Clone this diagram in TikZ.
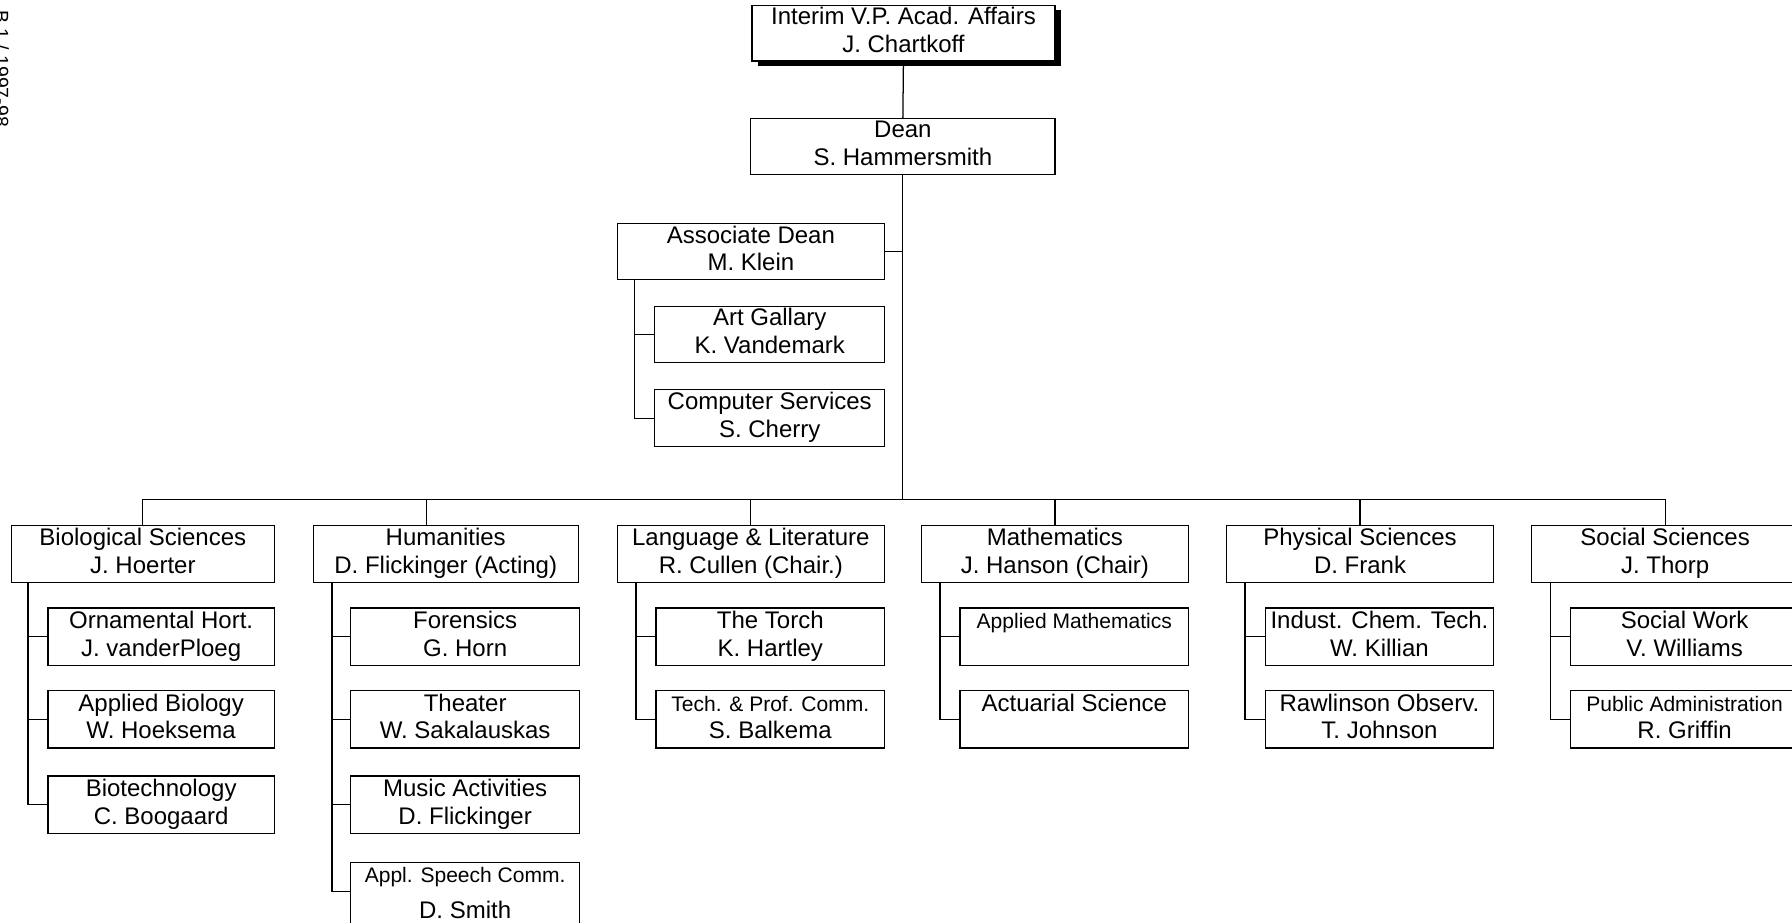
\documentclass[tikz,border=0pt]{standalone}
\usepackage{fontspec}
\setmainfont{Liberation Sans}
\usetikzlibrary{calc,shadows}
\newcommand{\tl}[2]{\begin{tabular}{@{}c@{}}#1\\#2\end{tabular}}
\newcommand{\smallfnt}{\fontsize{9.2}{12.2}\selectfont}
\begin{document}
\begin{tikzpicture}[x=0.5pt,y=-0.5pt,
  orgbox/.style={draw=black, line width=0.55pt, fill=white, inner sep=0pt, font=\fontsize{10.5}{12.2}\selectfont},
  dept/.style={orgbox, minimum width=117pt, minimum height=25pt},
  sub/.style={orgbox, minimum width=100pt, minimum height=25pt},
  link/.style={draw=black, line width=0.55pt}]
\useasboundingbox (0,0) rectangle (1568,807);
\clip (0,0) rectangle (1568,807);

% stamp at left edge
\node[rotate=-90, font=\fontsize{8.5}{10}\selectfont] (stamp) at (1.5,60) {B.1 / 1997-98};

% top levels
\node[orgbox, minimum width=132.5pt, minimum height=24pt,
      drop shadow={shadow xshift=2.5pt, shadow yshift=-2pt, fill=black, opacity=1}]
      (vp) at (790.5,29) {\tl{Interim V.P. Acad. Affairs}{J. Chartkoff}};
\node[orgbox, minimum width=133pt, minimum height=24pt] (dean) at (790,128) {\tl{Dean}{S. Hammersmith}};
\node[orgbox, minimum width=117pt, minimum height=23pt] (assoc) at (657,220) {\tl{Associate Dean}{M. Klein}};
\node[sub, minimum width=100.5pt, minimum height=24.5pt] (art) at (673.5,292.5) {\tl{Art Gallary}{K. Vandemark}};
\node[sub, minimum width=100.5pt] (comp) at (673.5,366) {\tl{Computer Services}{S. Cherry}};

% departments
\node[dept, minimum width=115pt] (bio) at (125,485) {\tl{Biological Sciences}{J. Hoerter}};
\node[dept, minimum width=116pt] (hum) at (390,485) {\tl{Humanities}{D. Flickinger (Acting)}};
\node[dept] (lang) at (657,485) {\tl{Language \& Literature}{R. Cullen (Chair.)}};
\node[dept] (math) at (923,485) {\tl{Mathematics}{J. Hanson (Chair)}};
\node[dept] (phys) at (1190,485) {\tl{Physical Sciences}{D. Frank}};
\node[dept] (soc) at (1457,485) {\tl{Social Sciences}{J. Thorp}};

% children
\node[sub, minimum width=99pt] (bio1) at (141,557) {\tl{Ornamental Hort.}{J. vanderPloeg}};
\node[sub, minimum width=99pt] (bio2) at (141,629.5) {\tl{Applied Biology}{W. Hoeksema}};
\node[sub, minimum width=99pt] (bio3) at (141,704) {\tl{Biotechnology}{C. Boogaard}};

\node[sub] (hum1) at (407,557) {\tl{Forensics}{G. Horn}};
\node[sub] (hum2) at (407,629.5) {\tl{Theater}{W. Sakalauskas}};
\node[sub] (hum3) at (407,704) {\tl{Music Activities}{D. Flickinger}};
\node[sub, minimum height=28pt] (hum4) at (407,783) {\tl{\smallfnt Appl. Speech Comm.}{\rule{0pt}{12pt}D. Smith}};

\node[sub] (lang1) at (674,557) {\tl{The Torch}{K. Hartley}};
\node[sub] (lang2) at (674,629.5) {\tl{\smallfnt Tech. \& Prof. Comm.}{S. Balkema}};

\node[sub] (math1) at (940,557) {\tl{\smallfnt Applied Mathematics}{\mbox{}}};
\node[sub] (math2) at (940,629.5) {\tl{Actuarial Science}{\mbox{}}};

\node[sub] (phys1) at (1207,557) {\tl{Indust. Chem. Tech.}{W. Killian}};
\node[sub] (phys2) at (1207,629.5) {\tl{Rawlinson Observ.}{T. Johnson}};

\node[sub] (soc1) at (1474,557) {\tl{Social Work}{V. Williams}};
\node[sub] (soc2) at (1474,629.5) {\tl{\smallfnt Public Administration}{R. Griffin}};

% connectors
\coordinate (bus) at (790,437);
\draw[link] (vp.south) -- (dean.north);
\draw[link] (dean.south) -- (bus);
\draw[link] (assoc.east) -- (assoc.east -| dean.south);
\draw[link] ([xshift=8pt]assoc.south west) |- (art.west);
\draw[link] ([xshift=8pt]assoc.south west) |- (comp.west);

\draw[link] (bus) -| (bio.north);
\draw[link] (bus) -| ([xshift=-8.5pt]hum.north);
\draw[link] (bus) -| (lang.north);
\draw[link] (bus) -| (math.north);
\draw[link] (bus) -| (phys.north);
\draw[link] (bus) -| (soc.north);

\foreach \c in {bio1,bio2,bio3} \draw[link] ([xshift=7.5pt]bio.south west) |- (\c.west);
\foreach \c in {hum1,hum2,hum3} \draw[link] ([xshift=8.5pt]hum.south west) |- (\c.west);
\draw[link] ([xshift=8.5pt]hum.south west) |- ([yshift=1.5pt]hum4.west);
\foreach \c in {lang1,lang2} \draw[link] ([xshift=8.5pt]lang.south west) |- (\c.west);
\foreach \c in {math1,math2} \draw[link] ([xshift=8.5pt]math.south west) |- (\c.west);
\foreach \c in {phys1,phys2} \draw[link] ([xshift=8.5pt]phys.south west) |- (\c.west);
\foreach \c in {soc1,soc2} \draw[link] ([xshift=8.5pt]soc.south west) |- (\c.west);
\end{tikzpicture}
\end{document}
